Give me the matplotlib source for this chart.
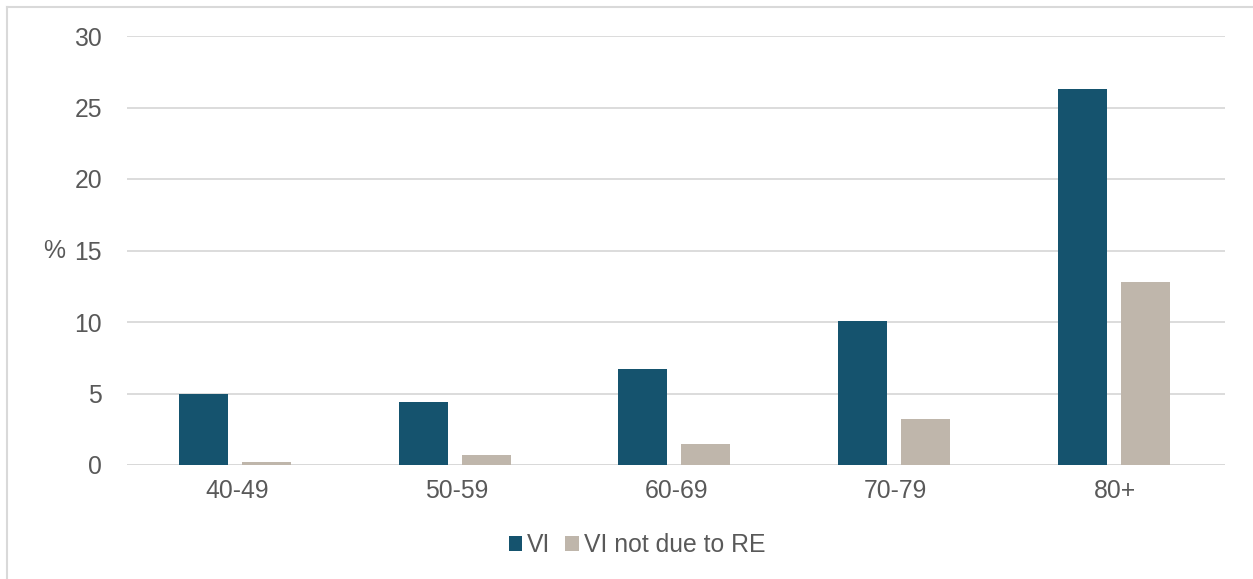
import matplotlib
matplotlib.use("Agg")
import matplotlib.pyplot as plt
import numpy as np
from matplotlib.lines import Line2D

age_groups = ["40-49", "50-59", "60-69", "70-79", "80+"]
vi = [5.0, 4.4, 6.7, 10.1, 26.3]
vi_not_re = [0.2, 0.7, 1.5, 3.2, 12.8]
y_ticks = [0, 5, 10, 15, 20, 25, 30]

plt.rcParams["font.family"] = ["Liberation Sans", "DejaVu Sans"]
text_color = "#595959"
c_vi = "#15536E"
c_re = "#BFB6AB"
fs = 17.8

W, H = 1253, 579
fig = plt.figure(figsize=(W / 100, H / 100), dpi=100)
ax = fig.add_axes([127 / W, 1 - 465 / H, (1225 - 127) / W, (465 - 36) / H])

x = np.arange(len(age_groups))
bw = 0.223
ax.bar(x - 0.151, vi, bw, color=c_vi, label="VI", zorder=3)
ax.bar(x + 0.136, vi_not_re, bw, color=c_re, label="VI not due to RE", zorder=3)

ax.set_xlim(-0.5, len(age_groups) - 0.5)
ax.set_ylim(0, 30)
ax.set_yticks(y_ticks)
ax.set_xticks(x)
ax.set_xticklabels(age_groups)
ax.tick_params(axis="both", length=0, labelsize=fs, colors=text_color)
ax.tick_params(axis="y", pad=18)
ax.tick_params(axis="x", pad=10)
ax.yaxis.grid(True, color="#D9D9D9", linewidth=1.3, zorder=0)
for s in ax.spines.values():
    s.set_visible(False)
ax.axhline(0, color="#D9D9D9", linewidth=1.3, zorder=2)

fig.text(54 / W, 1 - 251 / H, "%", fontsize=fs, color=text_color,
         ha="center", va="center")

leg = fig.legend(loc="center", bbox_to_anchor=(637 / W, 1 - 545 / H),
                 ncol=2, frameon=False, fontsize=fs, handlelength=0.55,
                 handleheight=0.55, handletextpad=0.2, columnspacing=0.6)
for t in leg.get_texts():
    t.set_color(text_color)

# outer chart-area border (left and top)
fig.add_artist(Line2D([6.5 / W, 6.5 / W], [0, 1 - 6.5 / H], transform=fig.transFigure,
                      color="#D9D9D9", linewidth=1.5))
fig.add_artist(Line2D([6.5 / W, 1], [1 - 6.5 / H, 1 - 6.5 / H], transform=fig.transFigure,
                      color="#D9D9D9", linewidth=1.5))

fig.savefig("out.png", dpi=100)
